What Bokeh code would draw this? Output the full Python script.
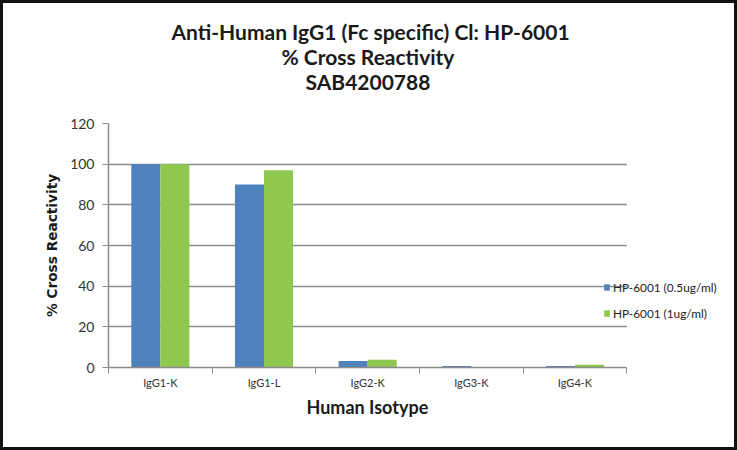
from bokeh.plotting import figure
from bokeh.models import (Range1d, FixedTicker, Legend, LegendItem, Title, ColumnDataSource,
                          BoxAnnotation, InlineStyleSheet)
from bokeh.transform import dodge
from bokeh.embed import file_html
from bokeh.resources import INLINE

categories = ["IgG1-K", "IgG1-L", "IgG2-K", "IgG3-K", "IgG4-K"]
series_names = ["HP-6001 (0.5ug/ml)", "HP-6001 (1ug/ml)"]
low_dose = [100, 90, 3.2, 0.7, 0.7]
high_dose = [100, 97, 3.8, 0.0, 1.3]
y_ticks = [0, 20, 40, 60, 80, 100, 120]
title_lines = ["Anti-Human IgG1 (Fc specific) Cl: HP-6001", "% Cross Reactivity", "SAB4200788"]
x_label = "Human Isotype"
y_label = "% Cross Reactivity"

BLUE = "#4F81BD"
GREEN = "#8FC84F"
GRID = "#8C8C8C"

n = len(categories)
pos = [i + 0.5 for i in range(n)]
src = ColumnDataSource(dict(pos=pos, low=low_dose, high=high_dose))

# frame spans beyond the category area so the legend (which overlaps the plot edge) is not clipped
p = figure(width=737, height=450, x_range=Range1d(0, 6), y_range=Range1d(0, 120),
           min_border_left=108, min_border_right=7, min_border_top=123, min_border_bottom=83,
           toolbar_location=None, output_backend="svg")
p.title.visible = False
p.outline_line_color = None
p.stylesheets = [InlineStyleSheet(css=(
    ":host { position: relative; }"
    ":host::after { content: ''; position: absolute; left: 0; top: 0; right: 0; bottom: 0;"
    " border: 3px solid #111; pointer-events: none; z-index: 100; }"))]

r1 = p.vbar(x=dodge("pos", -0.14), top="low", width=0.28, source=src, fill_color=BLUE, line_color=None)
r2 = p.vbar(x=dodge("pos", 0.14), top="high", width=0.28, source=src, fill_color=GREEN, line_color=None)

# spacer + titles (added bottom-up), left aligned with offsets so they centre on the category area
p.add_layout(Title(text=" ", text_font_size="10px", standoff=18), "above")
offsets = [63, 173, 197]
for txt, off in reversed(list(zip(title_lines, offsets))):
    p.add_layout(Title(text=txt, align="left", offset=off, text_font="Lato", text_font_size="21px",
                       text_font_style="bold", text_color="#1a1a1a", standoff=-2), "above")

# grid
p.xgrid.visible = False
p.ygrid.ticker = FixedTicker(ticks=y_ticks)
p.ygrid.grid_line_color = GRID
p.ygrid.grid_line_width = 1.5

# y axis
p.yaxis.ticker = FixedTicker(ticks=y_ticks)
p.yaxis.minor_tick_line_color = None
p.yaxis.axis_line_color = GRID
p.yaxis.axis_line_width = 1.5
p.yaxis.major_tick_line_color = GRID
p.yaxis.major_tick_out = 6
p.yaxis.major_tick_in = 0
p.yaxis.major_label_standoff = 8
p.yaxis.major_label_text_font = "Lato"
p.yaxis.major_label_text_font_size = "14px"
p.yaxis.major_label_text_color = "#333333"
p.yaxis.axis_label = y_label
p.yaxis.axis_label_text_font = "DejaVu Sans"
p.yaxis.axis_label_text_font_size = "13.7px"
p.yaxis.axis_label_text_font_style = "bold"
p.yaxis.axis_label_text_color = "#1a1a1a"
p.yaxis.axis_label_standoff = 7

# x axis
p.xaxis.bounds = (0, n)
p.xaxis.ticker = FixedTicker(ticks=pos, minor_ticks=list(range(n + 1)))
p.xaxis.major_label_overrides = {x: c for x, c in zip(pos, categories)}
p.xaxis.major_tick_line_color = None
p.xaxis.minor_tick_line_color = GRID
p.xaxis.minor_tick_out = 6
p.xaxis.minor_tick_in = 0
p.xaxis.axis_line_color = GRID
p.xaxis.axis_line_width = 1.5
p.xaxis.major_label_standoff = 2
p.xaxis.major_label_text_font = "Lato"
p.xaxis.major_label_text_font_size = "11px"
p.xaxis.major_label_text_color = "#333333"

# x axis title centred under the category area
p.add_layout(Title(text=x_label, align="left", offset=198, vertical_align="top",
                   text_font="Lato", text_font_size="18px", text_font_style="bold",
                   text_color="#1a1a1a", standoff=8), "below")

# hide grid lines beyond the last category
p.add_layout(BoxAnnotation(left=n, fill_color="white", fill_alpha=1.0, line_alpha=0))

legend = Legend(items=[LegendItem(label=series_names[0], renderers=[r1]),
                       LegendItem(label=series_names[1], renderers=[r2])],
                location=(495, 46), padding=0, margin=0, spacing=10,
                glyph_width=7, glyph_height=8, label_height=16, label_standoff=3,
                label_text_font="Lato", label_text_font_size="11.8px", label_text_color="#222222",
                border_line_color=None, background_fill_alpha=0)
p.add_layout(legend)

open("out.html", "w").write(file_html(p, INLINE))
